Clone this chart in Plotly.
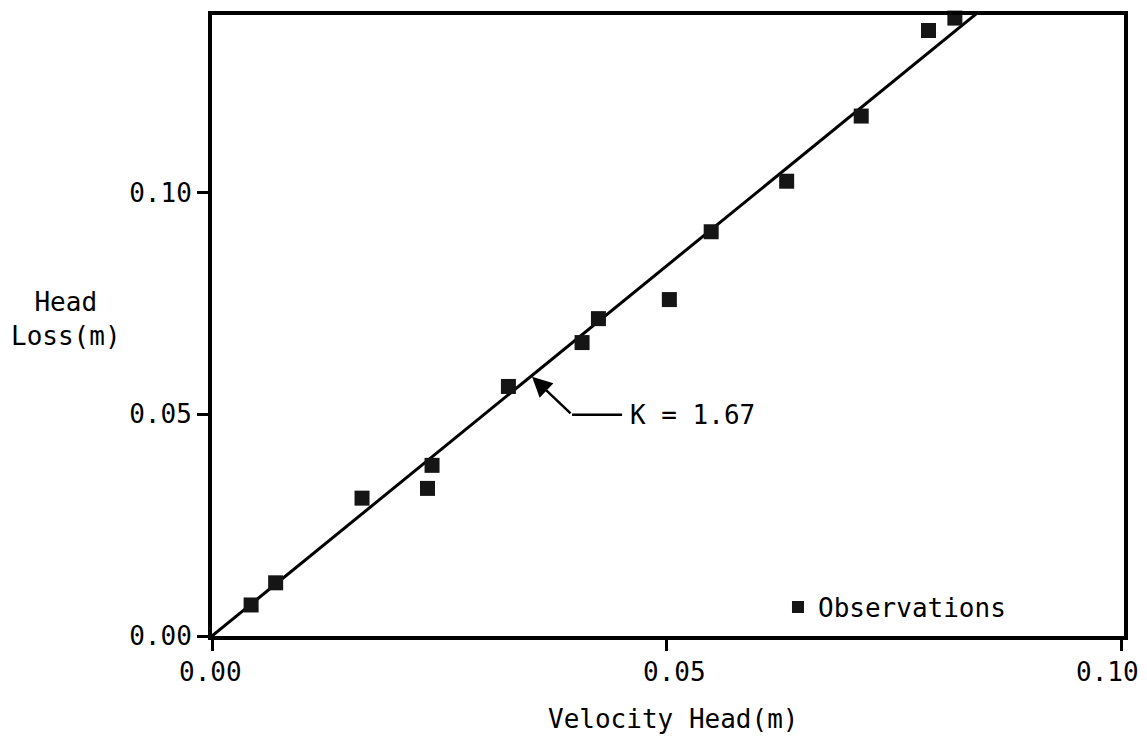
import plotly.graph_objects as go

# ---- data ----
velocity_head = [0.0043, 0.0070, 0.0165, 0.0237, 0.0242, 0.0326, 0.0407,
                 0.0425, 0.0503, 0.0549, 0.0632, 0.0714, 0.0788, 0.0817]
head_loss = [0.0070, 0.0120, 0.0311, 0.0333, 0.0385, 0.0563, 0.0662,
             0.0716, 0.0759, 0.0912, 0.1026, 0.1173, 0.1366, 0.1394]

K = 1.67
fit_x = [0.0, 0.09]
fit_y = [K * v for v in fit_x]

x_tick_vals = [0.0, 0.05, 0.10]
x_tick_text = ["0.00", "0.05", "0.10"]
y_tick_vals = [0.0, 0.05, 0.10]
y_tick_text = ["0.00", "0.05", "0.10"]

# ---- styling ----
FONT = "DejaVu Sans Mono"
FS = 26
x_label_shift = [-2, 8, -14]

fig = go.Figure()

fig.add_trace(go.Scatter(
    x=fit_x, y=fit_y, mode="lines",
    line=dict(color="black", width=3),
    showlegend=False, hoverinfo="skip"))

fig.add_trace(go.Scatter(
    x=velocity_head, y=head_loss, mode="markers",
    name="Observations",
    marker=dict(symbol="square", size=15, color="#151515",
                line=dict(width=0)),
    cliponaxis=False))

# K annotation: bent leader with arrow
bend_x, bend_y = 0.0396, 0.0499
tip_x, tip_y = 0.0352, 0.0585
fig.add_shape(type="line", xref="x", yref="y",
              x0=bend_x, y0=bend_y, x1=0.0451, y1=bend_y,
              line=dict(color="black", width=2.5))
fig.add_annotation(x=tip_x, y=tip_y, ax=bend_x, ay=bend_y,
                   xref="x", yref="y", axref="x", ayref="y",
                   text="", showarrow=True, arrowhead=2, arrowsize=1.6,
                   arrowwidth=2.5, arrowcolor="black")
fig.add_annotation(x=0.0457, y=bend_y, xref="x", yref="y",
                   text="K = 1.67", showarrow=False, xanchor="left",
                   yanchor="middle", font=dict(family=FONT, size=FS, color="black"))

# x tick labels
for v, t, s in zip(x_tick_vals, x_tick_text, x_label_shift):
    fig.add_annotation(x=v, y=0, xref="x", yref="paper", text=t,
                       showarrow=False, xanchor="center", yanchor="middle",
                       xshift=s, yshift=-36,
                       font=dict(family=FONT, size=FS, color="black"))

# axis titles
fig.add_annotation(x=-0.16, y=0.51, xref="paper", yref="paper",
                   text="Head<br>Loss(m)", showarrow=False, align="center",
                   xanchor="center", yanchor="middle",
                   font=dict(family=FONT, size=FS, color="black"))
fig.add_annotation(x=0.5055, y=-0.134, xref="paper", yref="paper",
                   text="Velocity Head(m)", showarrow=False,
                   xanchor="center", yanchor="middle",
                   font=dict(family=FONT, size=FS, color="black"))

fig.update_layout(
    width=1147, height=745,
    margin=dict(l=212, r=23, t=11, b=109),
    paper_bgcolor="white", plot_bgcolor="white",
    font=dict(family=FONT, size=FS, color="black"),
    showlegend=True,
    legend=dict(x=0.6206, y=0.0464, xanchor="left", yanchor="middle",
                bgcolor="rgba(0,0,0,0)", itemsizing="constant",
                font=dict(family=FONT, size=FS, color="black")),
)

fig.update_xaxes(range=[0, 0.1003], tickvals=x_tick_vals, showticklabels=False,
                 showgrid=False, zeroline=False, showline=True, linecolor="black",
                 linewidth=4, mirror=True, ticks="outside", ticklen=11,
                 tickwidth=3, tickcolor="black")
fig.update_yaxes(range=[0, 0.1401], tickvals=y_tick_vals, ticktext=y_tick_text,
                 showgrid=False, zeroline=False, showline=True, linecolor="black",
                 linewidth=4, mirror=True, ticks="outside", ticklen=11,
                 tickwidth=3, tickcolor="black",
                 tickfont=dict(family=FONT, size=FS, color="black"))

fig.write_html("out.html")
